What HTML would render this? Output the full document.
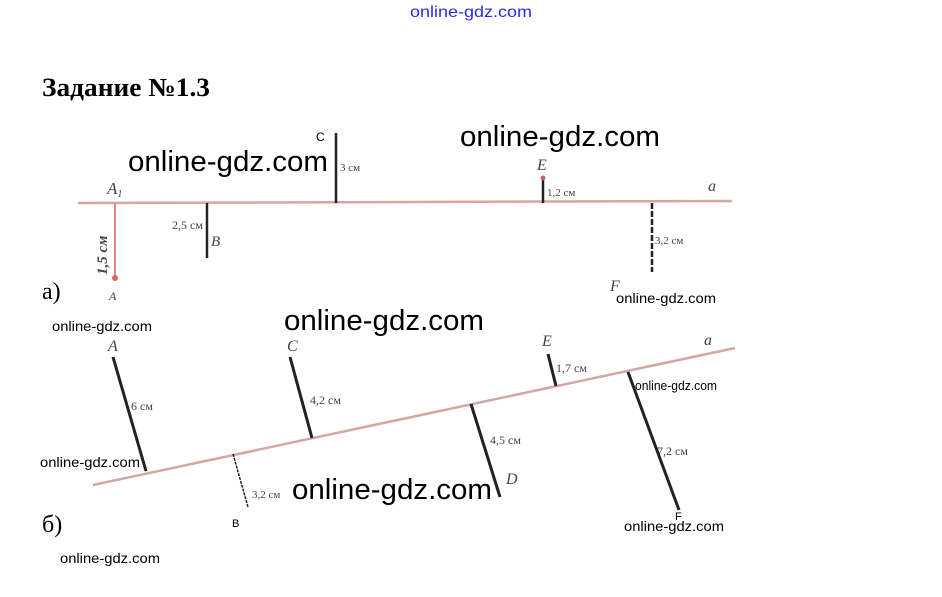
<!DOCTYPE html>
<html><head><meta charset="utf-8"><style>
body{margin:0;background:#fff;width:942px;height:597px;overflow:hidden}
svg{display:block}
.w{font-family:"Liberation Sans",sans-serif;fill:#000}
.s{font-family:"Liberation Serif",serif;fill:#444}
</style></head><body>
<svg width="942" height="597" xmlns="http://www.w3.org/2000/svg">
<text x="410" y="17" class="w" font-size="16" textLength="122" lengthAdjust="spacingAndGlyphs" style="fill:#2a2aee">online-gdz.com</text>
<text x="42" y="96" font-family="Liberation Serif,serif" font-weight="bold" font-size="26" textLength="168" lengthAdjust="spacingAndGlyphs">Задание №1.3</text>
<line x1="78" y1="203" x2="732" y2="201" stroke="#d8a4a4" stroke-width="2.5"/>
<text x="107" y="194" class="s" font-style="italic" font-size="17">A<tspan font-size="10" dy="3">1</tspan></text>
<line x1="115" y1="203" x2="115" y2="278" stroke="#d88" stroke-width="2"/>
<circle cx="115" cy="278" r="3" fill="#d66"/>
<text x="109" y="300" class="s" font-style="italic" font-size="12">A</text>
<text transform="translate(107,275) rotate(-90)" class="s" font-style="italic" font-weight="bold" font-size="15">1,5 см</text>
<line x1="207" y1="203" x2="207" y2="258" stroke="#222" stroke-width="2.5"/>
<text x="172" y="229" class="s" font-size="12">2,5 см</text>
<text x="211" y="246" class="s" font-style="italic" font-size="15">B</text>
<line x1="336" y1="133" x2="336" y2="203" stroke="#222" stroke-width="2.5"/>
<text x="316" y="141" class="w" font-size="12">C</text>
<text x="340" y="171" class="s" font-size="11">3 см</text>
<line x1="543" y1="178" x2="543" y2="203" stroke="#222" stroke-width="2.5"/>
<circle cx="543" cy="178" r="2.5" fill="#c66"/>
<text x="537" y="170" class="s" font-style="italic" font-size="16">E</text>
<text x="547" y="196" class="s" font-size="11">1,2 см</text>
<line x1="652" y1="203" x2="652" y2="272" stroke="#222" stroke-width="2.5" stroke-dasharray="6,2"/>
<text x="655" y="244" class="s" font-size="11">3,2 см</text>
<text x="610" y="291" class="s" font-style="italic" font-size="16">F</text>
<text x="708" y="191" class="s" font-style="italic" font-size="16">a</text>
<text x="42" y="299" font-family="Liberation Serif,serif" font-size="24">а)</text>
<line x1="93" y1="485" x2="735" y2="348" stroke="#d4a6a6" stroke-width="2.5"/>
<g stroke="#222" stroke-width="3">
<line x1="113" y1="357" x2="146" y2="471"/>
<line x1="290" y1="357" x2="312" y2="438"/>
<line x1="548" y1="354" x2="556" y2="386"/>
<line x1="471" y1="404" x2="500" y2="497"/>
<line x1="628" y1="372" x2="679" y2="510"/>
<line x1="233" y1="454" x2="248" y2="507" stroke-width="1.5" stroke-dasharray="3,1"/>
</g>
<text x="108" y="351" class="s" font-style="italic" font-size="16">A</text>
<text x="287" y="351" class="s" font-style="italic" font-size="16">C</text>
<text x="542" y="346" class="s" font-style="italic" font-size="16">E</text>
<text x="704" y="345" class="s" font-style="italic" font-size="16">a</text>
<text x="506" y="484" class="s" font-style="italic" font-size="16">D</text>
<text x="232" y="527" class="w" font-size="11">B</text>
<text x="675" y="520" class="w" font-size="11">F</text>
<text x="131" y="410" class="s" font-size="12">6 см</text>
<text x="310" y="404" class="s" font-size="12">4,2 см</text>
<text x="556" y="372" class="s" font-size="12">1,7 см</text>
<text x="490" y="444" class="s" font-size="12">4,5 см</text>
<text x="657" y="455" class="s" font-size="12">7,2 см</text>
<text x="252" y="498" class="s" font-size="11">3,2 см</text>
<text x="42" y="532" font-family="Liberation Serif,serif" font-size="24">б)</text>
<text x="128" y="171" class="w" font-size="29" textLength="200" lengthAdjust="spacingAndGlyphs">online-gdz.com</text>
<text x="460" y="146" class="w" font-size="29" textLength="200" lengthAdjust="spacingAndGlyphs">online-gdz.com</text>
<text x="616" y="303" class="w" font-size="14" textLength="100" lengthAdjust="spacingAndGlyphs">online-gdz.com</text>
<text x="52" y="331" class="w" font-size="14" textLength="100" lengthAdjust="spacingAndGlyphs">online-gdz.com</text>
<text x="284" y="330" class="w" font-size="29" textLength="200" lengthAdjust="spacingAndGlyphs">online-gdz.com</text>
<text x="635" y="390" class="w" font-size="13" textLength="82" lengthAdjust="spacingAndGlyphs">online-gdz.com</text>
<text x="40" y="467" class="w" font-size="14" textLength="100" lengthAdjust="spacingAndGlyphs">online-gdz.com</text>
<text x="292" y="499" class="w" font-size="29" textLength="200" lengthAdjust="spacingAndGlyphs">online-gdz.com</text>
<text x="624" y="531" class="w" font-size="14" textLength="100" lengthAdjust="spacingAndGlyphs">online-gdz.com</text>
<text x="60" y="563" class="w" font-size="14" textLength="100" lengthAdjust="spacingAndGlyphs">online-gdz.com</text>
</svg>
</body></html>
